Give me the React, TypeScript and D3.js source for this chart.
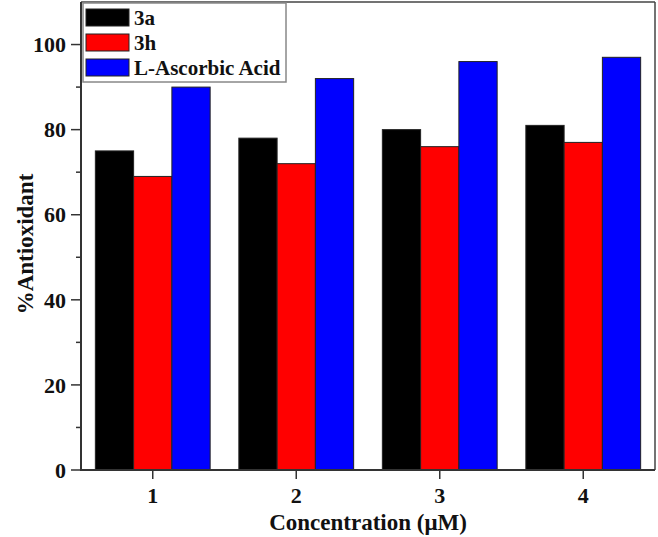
import React from "react";
import * as d3 from "d3";

const categories = [1, 2, 3, 4];
const series3a = [75, 78, 80, 81];
const series3h = [69, 72, 76, 77];
const seriesAA = [90, 92, 96, 97];
const seriesNames = ["3a", "3h", "L-Ascorbic Acid"];
const seriesColors = ["#000000", "#ff0000", "#0000ff"];
const yTicks = [0, 20, 40, 60, 80, 100];
const yMinorTicks = [10, 30, 50, 70, 90];

const W = 658;
const H = 537;
const left = 81;
const right = 655;
const top = 2;
const bottom = 470;
const FONT = "'Liberation Serif', 'Times New Roman', serif";

export default function App() {
  const x = d3.scaleLinear().domain([0.5, 4.5]).range([left, right]);
  const y = d3.scaleLinear().domain([0, 110]).range([bottom, top]);
  const allSeries = [series3a, series3h, seriesAA];
  const groupW = 0.8;
  const barW = groupW / allSeries.length;

  return (
    <svg width={W} height={H} style={{ position: "absolute", left: 0, top: 0, background: "#fff" }} fontFamily={FONT}>
      {/* bars */}
      {categories.map((c, ci) =>
        allSeries.map((s, si) => {
          const x0 = x(c - groupW / 2 + si * barW);
          const x1 = x(c - groupW / 2 + (si + 1) * barW);
          return (
            <rect
              key={`${ci}-${si}`}
              x={x0}
              y={y(s[ci])}
              width={x1 - x0}
              height={y(0) - y(s[ci])}
              fill={seriesColors[si]}
              stroke="#222"
              strokeWidth={1}
            />
          );
        })
      )}
      {/* frame */}
      <line x1={left} x2={right} y1={top} y2={top} stroke="#444" strokeWidth={1.5} />
      <line x1={right} x2={right} y1={top} y2={bottom} stroke="#444" strokeWidth={1.5} />
      <line x1={left} x2={left} y1={top} y2={bottom} stroke="#333" strokeWidth={2} />
      <line x1={left - 1} x2={right} y1={bottom} y2={bottom} stroke="#333" strokeWidth={2} />
      {/* y ticks */}
      {yTicks.map((t) => (
        <g key={t}>
          <line x1={left - 10} x2={left} y1={y(t)} y2={y(t)} stroke="#333" strokeWidth={1.5} />
          <text x={66} y={y(t)} dy="0.35em" textAnchor="end" fontSize={22} fontWeight="bold" fill="#111">
            {t}
          </text>
        </g>
      ))}
      {yMinorTicks.map((t) => (
        <line key={t} x1={left - 5} x2={left} y1={y(t)} y2={y(t)} stroke="#333" strokeWidth={1.5} />
      ))}
      {/* x ticks */}
      {categories.map((c) => (
        <g key={c}>
          <line x1={x(c)} x2={x(c)} y1={bottom} y2={bottom + 9} stroke="#333" strokeWidth={1.5} />
          <text x={x(c)} y={503} textAnchor="middle" fontSize={22} fontWeight="bold" fill="#111">
            {c}
          </text>
        </g>
      ))}
      {/* axis titles */}
      <text x={(left + right) / 2} y={530} textAnchor="middle" fontSize={23} fontWeight="bold" fill="#111">
        Concentration (μM)
      </text>
      <text
        transform={`translate(33, ${(top + bottom) / 2 + 8}) rotate(-90)`}
        textAnchor="middle"
        fontSize={23}
        fontWeight="bold"
        fill="#111"
      >
        %Antioxidant
      </text>
      {/* legend */}
      <rect x={83} y={3} width={203} height={79} fill="#fff" stroke="#888" strokeWidth={1.5} />
      {seriesNames.map((n, i) => (
        <g key={n}>
          <rect x={86} y={9 + i * 25} width={43} height={17} fill={seriesColors[i]} stroke="#222" strokeWidth={1} />
          <text x={134} y={25 + i * 25} fontSize={21} fontWeight="bold" fill="#111">
            {n}
          </text>
        </g>
      ))}
    </svg>
  );
}
